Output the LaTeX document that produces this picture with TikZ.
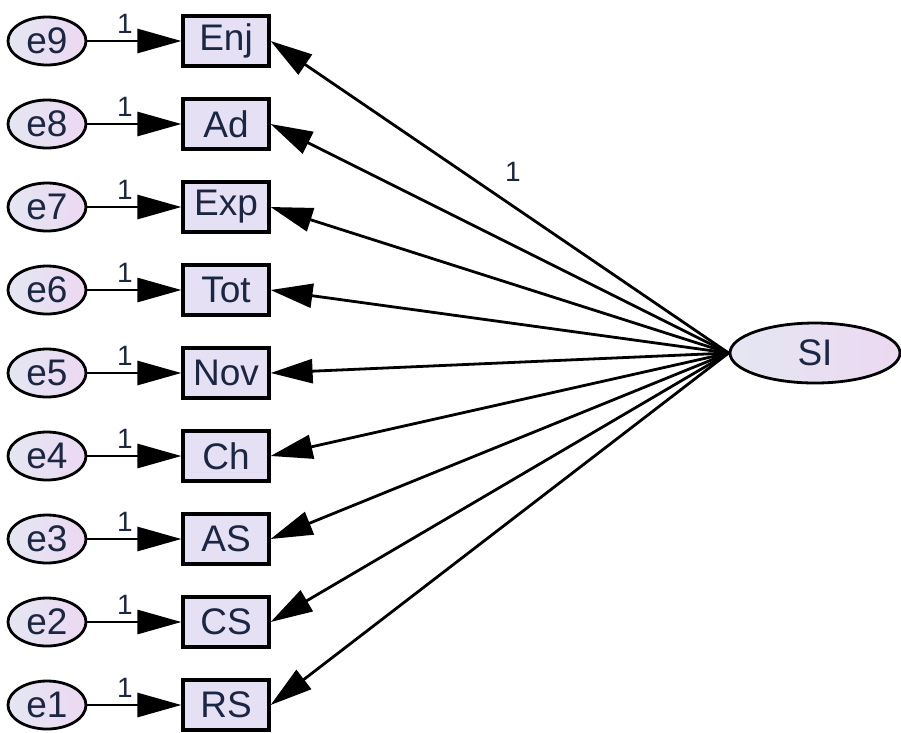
\documentclass[tikz,border=0pt]{standalone}
\usepackage{fontspec}
\setmainfont{Liberation Sans}
\usetikzlibrary{positioning, arrows.meta, shapes.geometric}
\definecolor{fillL}{HTML}{E4E7F2}
\definecolor{fillR}{HTML}{ECD8F2}
\definecolor{boxfill}{HTML}{E6E0F4}
\definecolor{ink}{HTML}{1B2642}
\tikzset{
  err/.style={ellipse, draw, line width=2.8pt, left color=fillL, right color=fillR,
              minimum width=78pt, minimum height=48pt, inner sep=0pt,
              font=\fontsize{37}{37}\selectfont, text=ink},
  obs/.style={rectangle, draw, line width=3.2pt, fill=boxfill,
              minimum width=86pt, minimum height=50pt, inner sep=0pt,
              font=\fontsize{37}{37}\selectfont, text=ink},
  lat/.style={ellipse, draw, line width=2.8pt, left color=fillL, right color=fillR,
              minimum width=170pt, minimum height=60pt, inner sep=0pt,
              font=\fontsize{37}{37}\selectfont, text=ink},
  resid/.style={-{Triangle[length=44pt, width=24pt]}, line width=2.8pt},
  load/.style={-{Triangle[length=42pt, width=24pt]}, line width=2.8pt},
  wt/.style={font=\fontsize{28}{28}\selectfont, text=ink, inner sep=1pt}
}

\begin{document}
\begin{tikzpicture}[x=1pt, y=-1pt]
  \useasboundingbox (0,0) rectangle (901,732);
  \node[lat] (si) at (815,353) {SI};
  % indicators with their error terms, top to bottom
  \foreach \v/\k in {Enj/9, Ad/8, Exp/7, Tot/6, Nov/5, Ch/4, AS/3, CS/2, RS/1} {
    \pgfmathsetmacro{\ry}{41+83*(9-\k)}
    \node[err] (e\k) at (47,\ry) {e\k};
    \node[obs] (\v) at (226,\ry) {\v};
    \draw[resid] (e\k) -- node[wt, above=5pt, pos=0.4] {1} (\v);
    \draw[load] (si.west) -- (\v.east);
  }
  \node[wt] (fix) at (513,172) {1};
\end{tikzpicture}
\end{document}
